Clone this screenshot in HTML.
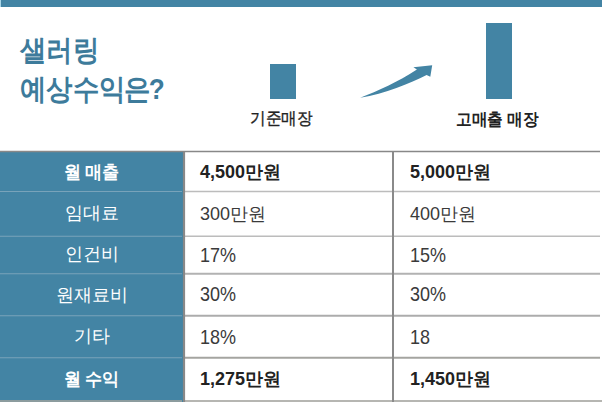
<!DOCTYPE html>
<html><head><meta charset="utf-8">
<style>
html,body{margin:0;padding:0;background:#fff;width:602px;height:402px;overflow:hidden;position:relative;font-family:"Liberation Sans",sans-serif;}
.abs{position:absolute;}
#topbar{left:1px;top:0;width:601px;height:6.5px;background:#4384a4;}
.title{left:20px;color:#3d7b9b;font-size:28.7px;font-weight:bold;line-height:39.3px;white-space:nowrap;transform:scaleX(0.91);transform-origin:0 0;}
.bar{background:#4384a4;}
.lbl{font-size:17px;color:#222;white-space:nowrap;-webkit-text-stroke:0.35px #222;transform:scaleX(0.92);transform-origin:0 0;}
#grid{left:0;top:0;}
.c1{left:0;width:183px;text-align:center;color:#fff;font-size:18px;white-space:nowrap;}
.c2{left:200px;color:#3a3a3a;font-size:18px;white-space:nowrap;}
.c3{left:410px;color:#3a3a3a;font-size:18px;white-space:nowrap;}
.b{font-weight:bold;color:#222;-webkit-text-stroke:0;}
.c1.b{color:#fff;transform:scaleX(0.95);transform-origin:91.5px 0;}
.d{transform:scaleY(1.1);transform-origin:0 50%;}
</style></head><body>
<div id="topbar" class="abs"></div><div class="abs" style="left:0;top:0;width:1px;height:6.5px;background:#a9d6e8"></div>
<div class="abs title" style="top:31px;">샐러링<br>예상수익<span style="margin-left:-1.5px">은</span><span style="margin-left:-2px">?</span></div>
<div class="abs bar" style="left:270px;top:64px;width:26px;height:34.6px;"></div>
<div class="abs bar" style="left:486px;top:23px;width:26px;height:75.6px;"></div>
<svg class="abs" style="left:0;top:0" width="602" height="402" viewBox="0 0 602 402">
<path fill="#4384a4" d="M360.2 97.8 C378 91 398 82 416.9 69.6 L413.4 67.2 L432.2 65.2 L430.3 76.8 L426.6 74.9 C410 83 385 93.5 360.2 97.8 Z"/>
</svg>
<div class="abs lbl" style="left:250px;top:106.5px;">기준매장</div>
<div class="abs lbl b" style="left:456px;top:107.5px;">고매출 매장</div>

<div class="abs" style="left:0;top:151px;width:183px;height:251px;background:#4384a4;"></div>
<svg class="abs" style="left:0;top:0" width="602" height="402" viewBox="0 0 602 402">
<g>
<line x1="185" y1="191.5" x2="600" y2="191.5" stroke="#bcbcbc" stroke-width="1.4"/>
<line x1="185" y1="236.2" x2="600" y2="236.2" stroke="#bcbcbc" stroke-width="1.4"/>
<line x1="185" y1="273.7" x2="600" y2="273.7" stroke="#b2b2b2" stroke-width="1.9"/>
<line x1="185" y1="315.8" x2="600" y2="315.8" stroke="#acacac" stroke-width="1.9"/>
<line x1="185" y1="357.8" x2="600" y2="357.8" stroke="#a4a4a0" stroke-width="1.9"/>
<line x1="185" y1="401" x2="602" y2="401" stroke="#b6b6b2" stroke-width="2"/>
</g>
<g stroke="#78a3ba" stroke-width="1.1">
<line x1="0" y1="191.5" x2="182" y2="191.5"/>
<line x1="0" y1="236.2" x2="182" y2="236.2"/>
<line x1="0" y1="273.7" x2="182" y2="273.7"/>
<line x1="0" y1="315.8" x2="182" y2="315.8"/>
<line x1="0" y1="357.8" x2="182" y2="357.8"/>
<line x1="0" y1="401" x2="182" y2="401" stroke="#8c9c9e" stroke-width="2"/>
</g>
<line x1="0" y1="151.5" x2="600" y2="151.5" stroke="#888" stroke-width="1.6"/>
<line x1="184" y1="151" x2="184" y2="402" stroke="#888" stroke-width="2.2"/>
<line x1="393" y1="151" x2="393" y2="402" stroke="#8a8a8a" stroke-width="2"/>
</svg>

<div class="abs c1 b" style="top:160px;word-spacing:-1px;">월 매출</div>
<div class="abs c2 b" style="top:160px;">4,500만원</div>
<div class="abs c3 b" style="top:160px;">5,000만원</div>

<div class="abs c1" style="top:200.5px;">임대료</div>
<div class="abs c2" style="top:202px;">300만원</div>
<div class="abs c3" style="top:202px;">400만원</div>

<div class="abs c1" style="top:242px;">인건비</div>
<div class="abs c2 d" style="top:244.5px;">17%</div>
<div class="abs c3 d" style="top:244.5px;">15%</div>

<div class="abs c1" style="top:282.5px;">원재료비</div>
<div class="abs c2 d" style="top:284px;">30%</div>
<div class="abs c3 d" style="top:284px;">30%</div>

<div class="abs c1" style="top:324px;">기타</div>
<div class="abs c2 d" style="top:326.5px;">18%</div>
<div class="abs c3 d" style="top:326.5px;">18</div>

<div class="abs c1 b" style="top:367px;word-spacing:-1px;">월 수익</div>
<div class="abs c2 b" style="top:367px;">1,275만원</div>
<div class="abs c3 b" style="top:367px;">1,450만원</div>
</body></html>
